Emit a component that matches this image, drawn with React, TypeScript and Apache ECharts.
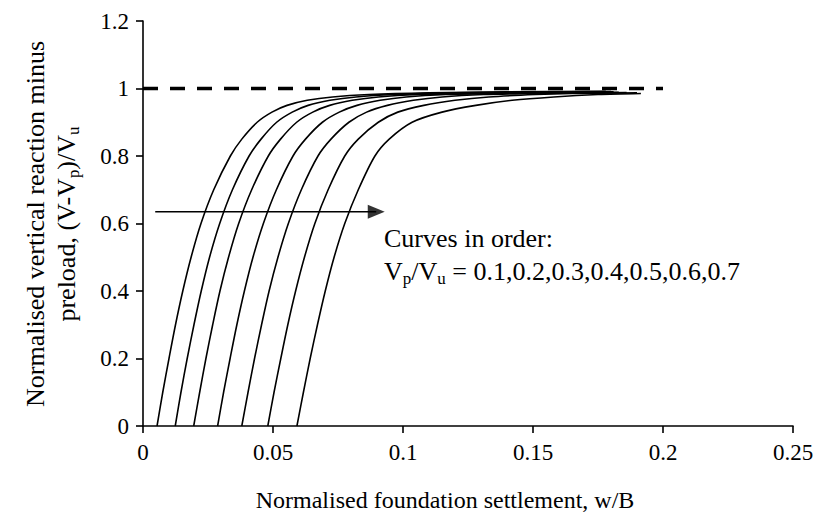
import React, { useEffect, useRef } from "react";
import * as echarts from "echarts";

// Settlement values (w/B) of each curve at the shared reaction levels below
const reactionLevels = [0, 0.1, 0.2, 0.3, 0.4, 0.5, 0.6, 0.7, 0.8, 0.85, 0.9, 0.93, 0.95, 0.965, 0.975, 0.982];

const curveSettlements = [
  [0.0054, 0.0076, 0.01, 0.0125, 0.0153, 0.0185, 0.0223, 0.0272, 0.0336, 0.038, 0.0439, 0.0496, 0.0554, 0.0632, 0.0729, 0.0869],
  [0.0124, 0.0146, 0.017, 0.0196, 0.0224, 0.0256, 0.0295, 0.0344, 0.0408, 0.0454, 0.0514, 0.0574, 0.0635, 0.0719, 0.0819, 0.0969],
  [0.0195, 0.0218, 0.0242, 0.0268, 0.0296, 0.0329, 0.0368, 0.0418, 0.0482, 0.0529, 0.0591, 0.0653, 0.0718, 0.0805, 0.0905, 0.106],
  [0.0287, 0.031, 0.0335, 0.0361, 0.039, 0.0423, 0.0463, 0.0513, 0.0577, 0.0625, 0.069, 0.0755, 0.0823, 0.0912, 0.1012, 0.1167],
  [0.038, 0.0404, 0.0429, 0.0456, 0.0485, 0.0519, 0.0559, 0.0609, 0.0673, 0.0723, 0.0792, 0.086, 0.094, 0.104, 0.115, 0.131],
  [0.048, 0.0504, 0.053, 0.0557, 0.0587, 0.0621, 0.0661, 0.0712, 0.0776, 0.0828, 0.0905, 0.098, 0.108, 0.12, 0.133, 0.151],
  [0.0592, 0.0617, 0.0643, 0.0671, 0.0701, 0.0735, 0.0776, 0.0828, 0.0892, 0.0947, 0.1035, 0.115, 0.128, 0.142, 0.158, 0.175],
];

// Final flat stretch of each curve as [w/B, reaction] pairs
const curveTails: [number, number][][] = [
  [[0.11, 0.987], [0.14, 0.99], [0.178, 0.992]],
  [[0.12, 0.987], [0.15, 0.99], [0.18, 0.991]],
  [[0.13, 0.986], [0.16, 0.989], [0.181, 0.99]],
  [[0.14, 0.986], [0.165, 0.988], [0.183, 0.989]],
  [[0.15, 0.985], [0.17, 0.987], [0.186, 0.988]],
  [[0.165, 0.985], [0.19, 0.987]],
  [[0.1915, 0.985]],
];

// Ultimate capacity reference line
const capacityLine: [number, number][] = [
  [0, 1],
  [0.2, 1],
];

// Arrow showing the order of the curves (shaft start, head centre)
const arrowStart: [number, number] = [0.0047, 0.635];
const arrowHead: [number, number] = [0.0897, 0.635];

const FONT = "Liberation Serif, Times New Roman, serif";

export default function App() {
  const ref = useRef<HTMLDivElement>(null);

  useEffect(() => {
    if (!ref.current) return;
    const chart = echarts.init(ref.current, undefined, { renderer: "svg" });

    const curveSeries = curveSettlements.map((xs, i) => ({
      type: "line",
      name: `Vp/Vu = ${(i + 1) / 10}`,
      data: [...xs.map((x, k) => [x, reactionLevels[k]]), ...curveTails[i]],
      showSymbol: false,
      smooth: 0.3,
      lineStyle: { color: "#000", width: 1.6 },
      z: 3,
    }));

    const subRich = (size: number) => ({
      n: { fontFamily: FONT, fontSize: size, fill: "#000" },
      s: { fontFamily: FONT, fontSize: Math.round(size * 0.66), fill: "#000", padding: [Math.round(size * 0.55), 0, 0, 0] },
    });

    chart.setOption({
      animation: false,
      backgroundColor: "#fff",
      grid: { left: 143, right: 25, top: 21, bottom: 104, containLabel: false },
      xAxis: {
        type: "value",
        min: 0,
        max: 0.25,
        interval: 0.05,
        splitLine: { show: false },
        axisLine: { onZero: false, lineStyle: { color: "#000", width: 1.6 } },
        axisTick: { show: true, length: 7, lineStyle: { color: "#000", width: 1.6 } },
        axisLabel: { color: "#000", fontFamily: FONT, fontSize: 23, margin: 15 },
      },
      yAxis: {
        type: "value",
        min: 0,
        max: 1.2,
        interval: 0.2,
        splitLine: { show: false },
        axisLine: { show: true, lineStyle: { color: "#000", width: 1.6 } },
        axisTick: { show: true, length: 7, lineStyle: { color: "#000", width: 1.6 } },
        axisLabel: { color: "#000", fontFamily: FONT, fontSize: 23, margin: 14 },
      },
      series: [
        {
          type: "line",
          data: capacityLine,
          showSymbol: false,
          lineStyle: { color: "#000", width: 3.5, type: [15, 12] },
          z: 2,
        },
        {
          type: "line",
          data: [arrowStart, arrowHead],
          showSymbol: false,
          lineStyle: { color: "#000", width: 1.6 },
          z: 4,
        },
        {
          type: "scatter",
          data: [arrowHead],
          symbol: "triangle",
          symbolRotate: -90,
          symbolSize: [14, 17],
          itemStyle: { color: "#000" },
          z: 4,
        },
        ...curveSeries,
      ],
      graphic: [
        {
          type: "text",
          x: 384,
          y: 238,
          style: {
            text: "Curves in order:",
            fontFamily: FONT,
            fontSize: 26,
            fill: "#000",
            verticalAlign: "middle",
          },
        },
        {
          type: "text",
          x: 384,
          y: 271,
          style: {
            text: "{n|V}{s|p}{n|/V}{s|u}{n| = 0.1,0.2,0.3,0.4,0.5,0.6,0.7}",
            fontFamily: FONT,
            fontSize: 26,
            fill: "#000",
            verticalAlign: "middle",
            rich: subRich(26),
          },
        },
        {
          type: "text",
          x: 445,
          y: 500,
          style: {
            text: "Normalised foundation settlement, w/B",
            fontFamily: FONT,
            fontSize: 24,
            fill: "#000",
            align: "center",
            verticalAlign: "middle",
          },
        },
        {
          type: "text",
          x: 35,
          y: 224,
          rotation: Math.PI / 2,
          style: {
            text: "Normalised vertical reaction minus",
            fontFamily: FONT,
            fontSize: 26,
            fill: "#000",
            align: "center",
            verticalAlign: "middle",
          },
        },
        {
          type: "text",
          x: 66,
          y: 224,
          rotation: Math.PI / 2,
          style: {
            text: "{n|preload, (V-V}{s|p}{n|)/V}{s|u}",
            fontFamily: FONT,
            fontSize: 26,
            fill: "#000",
            align: "center",
            verticalAlign: "middle",
            rich: subRich(26),
          },
        },
      ],
    });

    return () => chart.dispose();
  }, []);

  return (
    <div
      ref={ref}
      style={{ position: "fixed", left: 0, top: 0, width: 818, height: 530 }}
    />
  );
}
